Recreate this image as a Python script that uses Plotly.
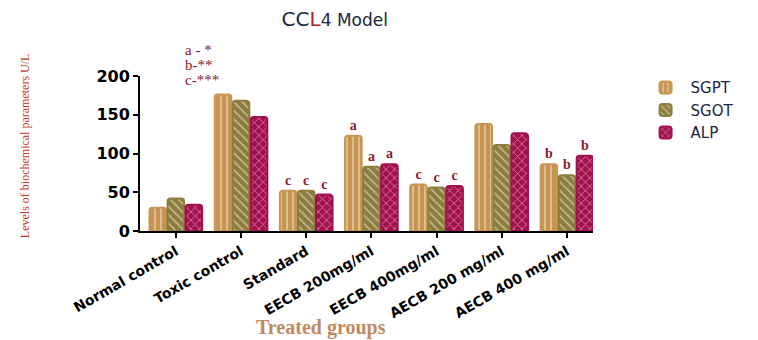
import plotly.graph_objects as go

groups = ["Normal control", "Toxic control", "Standard", "EECB 200mg/ml",
          "EECB 400mg/ml", "AECB 200 mg/ml", "AECB 400 mg/ml"]
sgpt = [30, 176, 52, 123, 60, 138, 86]
sgot = [42, 168, 52, 83, 56, 111, 72]
alp = [34, 147, 47, 86, 58, 126, 97]

# significance letters per bar ("" = none)
sgpt_sig = ["", "", "c", "a", "c", "", "b"]
sgot_sig = ["", "", "c", "a", "c", "", "b"]
alp_sig = ["", "", "c", "a", "c", "", "b"]

key_lines = ["a - *", "b-**", "c-***"]

series = [
    ("SGPT", sgpt, sgpt_sig, "#C89550", "|"),
    ("SGOT", sgot, sgot_sig, "#8C7D3C", "\\"),
    ("ALP", alp, alp_sig, "#A3104E", "x"),
]

fig = go.Figure()
for name, vals, sig, color, shape in series:
    fig.add_trace(go.Bar(
        name=name, x=groups, y=vals,
        marker=dict(color=color,
                    line=dict(color=color, width=2),
                    pattern=dict(shape=shape, fgcolor="white", bgcolor=color,
                                 size=6, solidity=0.25)),
        text=sig, textposition="outside",
        textfont=dict(family="Liberation Serif", size=14, color="#8B1A2B",
                      weight="bold"),
        cliponaxis=False,
    ))

# significance key above the Toxic control group
for i, line in enumerate(key_lines):
    fig.add_annotation(x=0.095, xref="paper", y=1.168 - 0.097 * i, yref="paper",
                       text=line, showarrow=False, xanchor="left", yanchor="middle",
                       font=dict(family="Liberation Serif", size=15, color="#8B1A2B"))

fig.update_layout(
    width=758, height=340,
    margin=dict(l=140, r=165, t=76, b=109),
    paper_bgcolor="white", plot_bgcolor="white",
    barmode="group", bargap=0.17, bargroupgap=0.08, barcornerradius=3,
    title=dict(text="<span style='font-size:20px'>CC</span>"
                    "<span style='font-size:20px;color:#B22222'>L</span>"
                    "<span style='font-size:17px'>4 Model</span>",
               x=0.43, xref="paper", xanchor="center", y=0.94, yanchor="middle",
               font=dict(family="DejaVu Sans", color="#1b2540")),
    legend=dict(x=1.105, y=1.03, xanchor="left", yanchor="top",
                font=dict(family="DejaVu Sans", size=15, color="#1b2540"),
                itemwidth=40, bgcolor="rgba(0,0,0,0)"),
    xaxis=dict(range=[-0.55, 6.4], showline=True, linecolor="black", linewidth=2,
               automargin=False,
               ticks="outside", ticklen=5, tickwidth=2, tickcolor="black",
               tickangle=-30,
               tickfont=dict(family="DejaVu Sans", size=14, color="black",
                             weight="bold")),
    yaxis=dict(range=[0, 200], tickvals=[0, 50, 100, 150, 200],
               automargin=False,
               showline=True, linecolor="black", linewidth=2, showgrid=False,
               zeroline=False,
               ticks="outside", ticklen=5, tickwidth=2, tickcolor="black",
               tickfont=dict(family="DejaVu Sans", size=16, color="black",
                             weight="bold")),
)

# x-axis title placed under the rotated group labels
fig.add_annotation(x=0.40, xref="paper", y=-0.62, yref="paper",
                   text="<b>Treated groups</b>", showarrow=False,
                   xanchor="center", yanchor="middle",
                   font=dict(family="Liberation Serif", size=20, color="#C08A5E"))

# y-axis title in a narrow serif face
fig.add_annotation(x=-0.275, xref="paper", y=0.55, yref="paper",
                   text="Levels of biochemical parameters U/L", textangle=-90,
                   showarrow=False,
                   font=dict(family="Liberation Serif", size=12,
                             color="#C0392B"))

fig.write_html("out.html")
